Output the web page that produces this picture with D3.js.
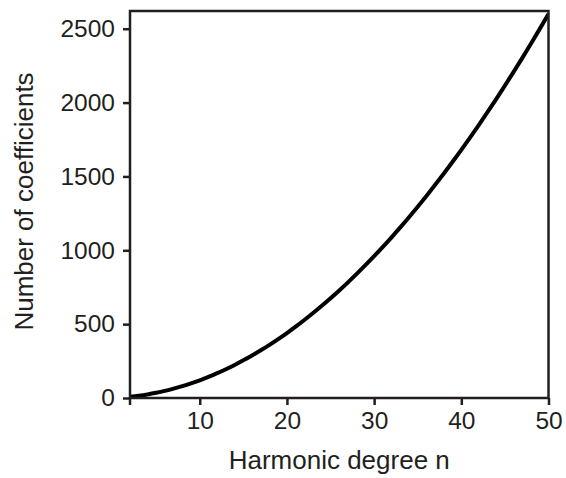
<!DOCTYPE html>
<html>
<head>
<meta charset="utf-8">
<script src="https://cdn.jsdelivr.net/npm/d3@7"></script>
<style>
  html, body { margin: 0; padding: 0; background: #fff; }
  svg { display: block; }
  text { font-family: "Liberation Sans", Arial, Helvetica, sans-serif; fill: #231f20; }
</style>
</head>
<body>
<svg id="chart" width="566" height="478"></svg>
<script>
// Data
const degrees = [2,3,4,5,6,7,8,9,10,11,12,13,14,15,16,17,18,19,20,21,22,23,24,25,26,27,28,29,30,31,32,33,34,35,36,37,38,39,40,41,42,43,44,45,46,47,48,49,50];
const coefficients = [8,15,24,35,48,63,80,99,120,143,168,195,224,255,288,323,360,399,440,483,528,575,624,675,728,783,840,899,960,1023,1088,1155,1224,1295,1368,1443,1520,1599,1680,1763,1848,1935,2024,2115,2208,2303,2400,2499,2600];
const xTicks = [10, 20, 30, 40, 50];
const yTicks = [0, 500, 1000, 1500, 2000, 2500];
const xLabel = "Harmonic degree n";
const yLabel = "Number of coefficients";

(function () {
const svg = d3.select("#chart");
const mLeft = 130, mRight = 548.5, mTop = 11, mBottom = 398;

const x = d3.scaleLinear().domain([2, 50]).range([mLeft, mRight]);
const y = d3.scaleLinear().domain([0, 2620]).range([mBottom, mTop]);

const axisColor = "#231f20";

// x axis
const gx = svg.append("g").attr("transform", `translate(0,${mBottom})`)
  .call(d3.axisBottom(x).tickValues(xTicks).tickFormat(d3.format("d")).tickSize(7).tickPadding(7).tickSizeOuter(0));
gx.select(".domain").remove();
gx.selectAll(".tick line").attr("stroke", axisColor).attr("stroke-width", 2.5);
gx.selectAll(".tick text").attr("font-size", 24.5).attr("fill", axisColor)
  .attr("font-family", "'Liberation Sans', Arial, sans-serif");

// y axis
const gy = svg.append("g").attr("transform", `translate(${mLeft},0)`)
  .call(d3.axisLeft(y).tickValues(yTicks).tickFormat(d3.format("d")).tickSize(7).tickPadding(8).tickSizeOuter(0));
gy.select(".domain").remove();
gy.selectAll(".tick line").attr("stroke", axisColor).attr("stroke-width", 2.5);
gy.selectAll(".tick text").attr("font-size", 24.5).attr("fill", axisColor)
  .attr("font-family", "'Liberation Sans', Arial, sans-serif");

// tick at x start
svg.append("line").attr("x1", mLeft).attr("x2", mLeft).attr("y1", mBottom).attr("y2", mBottom + 7)
  .attr("stroke", axisColor).attr("stroke-width", 2.5);

// clip
svg.append("clipPath").attr("id", "clip").append("rect")
  .attr("x", mLeft).attr("y", mTop).attr("width", mRight - mLeft).attr("height", mBottom - mTop);

// curve
const pts = degrees.map((d, i) => [d, coefficients[i]]);
svg.append("path")
  .datum(pts)
  .attr("clip-path", "url(#clip)")
  .attr("fill", "none")
  .attr("stroke", "#000")
  .attr("stroke-width", 4)
  .attr("d", d3.line().x(d => x(d[0])).y(d => y(d[1])).curve(d3.curveMonotoneX));

// frame
svg.append("rect")
  .attr("x", mLeft).attr("y", mTop).attr("width", mRight - mLeft).attr("height", mBottom - mTop)
  .attr("fill", "none").attr("stroke", axisColor).attr("stroke-width", 2.5);

// titles
svg.append("text")
  .attr("x", (mLeft + mRight) / 2).attr("y", 469)
  .attr("text-anchor", "middle").attr("font-size", 26)
  .text(xLabel);

svg.append("text")
  .attr("transform", `translate(33,${(mTop + mBottom) / 2 - 3}) rotate(-90)`)
  .attr("text-anchor", "middle").attr("font-size", 26)
  .text(yLabel);
})();
</script>
</body>
</html>
